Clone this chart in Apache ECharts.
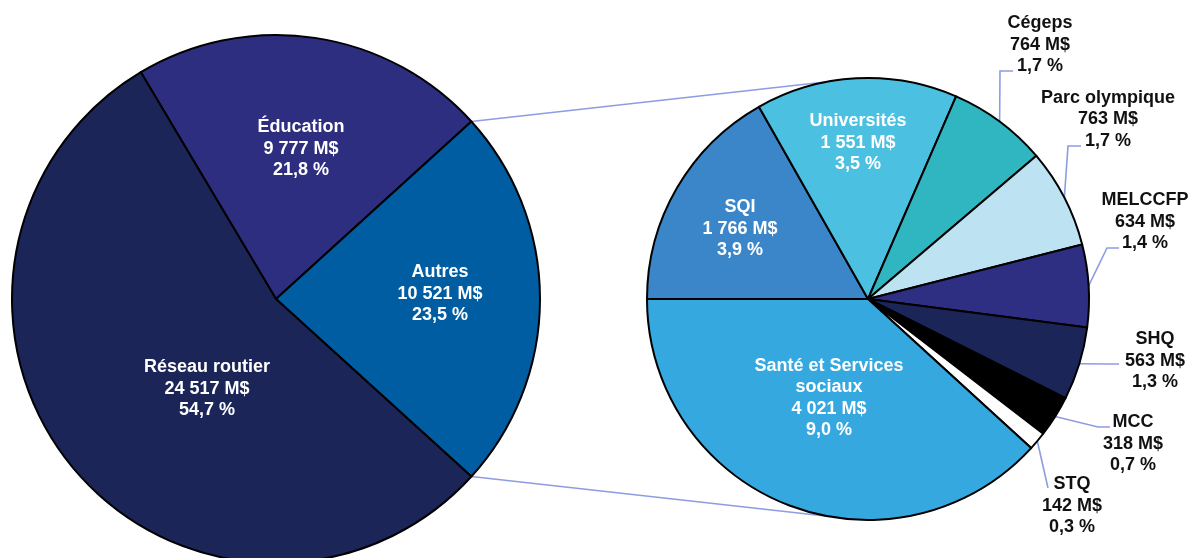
<!DOCTYPE html>
<html>
<head>
<meta charset="utf-8">
<script src="https://cdn.jsdelivr.net/npm/echarts@6/dist/echarts.min.js"></script>
<style>
  html, body { margin: 0; padding: 0; background: #fff; }
  #chart { width: 1192px; height: 558px; }
</style>
</head>
<body>
<div id="chart"></div>
<script>
// pie principal (M$)
var mainNames = ['Éducation', 'Autres', 'Réseau routier'];
var mainValues = [9777, 10521, 24517];
var mainColors = ['#2e2e80', '#005da2', '#1b2558'];

// détail de « Autres » (M$)
var otherNames = ['SQI', 'Universités', 'Cégeps', 'Parc olympique', 'MELCCFP', 'SHQ', 'MCC', 'STQ', 'Santé et Services sociaux'];
var otherValues = [1766, 1551, 764, 763, 634, 563, 318, 142, 4021];
var otherColors = ['#3a86c8', '#4bc0e0', '#30b6c0', '#bde2f1', '#2e2e82', '#1b2558', '#000000', '#ffffff', '#36a8e0'];

var total = mainValues.reduce(function (a, b) { return a + b; }, 0);

// géométrie
var leftC = [276, 299], leftR = 264;
var rightC = [868, 299], rightR = 221;
var eduDeg = mainValues[0] / total * 360;
var autDeg = mainValues[1] / total * 360;
var leftStart = autDeg / 2 + eduDeg; // Autres centré sur l'horizontale
var rightStart = 180;
var joinDeg = 100.6; // où les traits de liaison touchent le 2e pie

// étiquettes
var leftLabelAt = [[301, 149], [440, 294], [207, 389]];
var rightInsideAt = { 0: [740, 229], 1: [858, 143], 8: [829, 398] };
var rightOutside = {
  2: { at: [1040, 45], attach: [1013, 71], elbow: 13 },
  3: { at: [1108, 119.5], attach: [1081, 146], elbow: 13 },
  4: { at: [1145, 222], attach: [1119, 248], elbow: 12 },
  5: { at: [1155, 361], attach: [1119, 364], elbow: 12 },
  6: { at: [1133, 444], attach: [1110, 427], elbow: 12 },
  7: { at: [1072, 506], attach: [1048, 488], elbow: 0 }
};

function ptOn(c, r, deg) {
  var a = deg * Math.PI / 180;
  return [c[0] + r * Math.cos(a), c[1] - r * Math.sin(a)];
}

// angle milieu de chaque tranche du 2e pie
var otherTotal = otherValues.reduce(function (a, b) { return a + b; }, 0);
var rightMid = [];
var acc = rightStart;
otherValues.forEach(function (v) {
  var d = v / otherTotal * 360;
  rightMid.push(acc - d / 2);
  acc -= d;
});

function fmtNum(v) {
  return String(v).replace(/\B(?=(\d{3})+(?!\d))/g, ' ');
}
function fmtPct(v) {
  return (v / total * 100).toFixed(1).replace('.', ',') + ' %';
}
function labelText(p) {
  return p.name.replace('Services ', 'Services\n') + '\n' + fmtNum(p.value) + ' M$\n' + fmtPct(p.value);
}

var labelBase = {
  fontFamily: 'Liberation Sans, Arial, sans-serif',
  fontWeight: 'bold',
  fontSize: 18,
  lineHeight: 21.5,
  formatter: labelText
};

var chart = echarts.init(document.getElementById('chart'), null, { renderer: 'canvas' });

var a1 = leftStart - eduDeg;
var a2 = a1 - autDeg;
var s1 = ptOn(leftC, leftR, a1), e1 = ptOn(rightC, rightR, joinDeg);
var s2 = ptOn(leftC, leftR, a2), e2 = ptOn(rightC, rightR, -joinDeg);

var option = {
  animation: false,
  graphic: [
    { type: 'line', z: 0, shape: { x1: s1[0], y1: s1[1], x2: e1[0], y2: e1[1] }, style: { stroke: '#8e9ce2', lineWidth: 1.6 } },
    { type: 'line', z: 0, shape: { x1: s2[0], y1: s2[1], x2: e2[0], y2: e2[1] }, style: { stroke: '#8e9ce2', lineWidth: 1.6 } }
  ],
  series: [
    {
      type: 'pie',
      center: leftC,
      radius: [0, leftR],
      startAngle: leftStart,
      clockwise: true,
      avoidLabelOverlap: false,
      emphasis: { disabled: true },
      itemStyle: { borderColor: '#000', borderWidth: 2 },
      label: Object.assign({ position: 'inside', color: '#fff' }, labelBase),
      labelLine: { show: false },
      labelLayout: function (p) {
        var at = leftLabelAt[p.dataIndex];
        return { x: at[0], y: at[1], align: 'center', verticalAlign: 'middle' };
      },
      data: mainNames.map(function (n, i) {
        return { name: n, value: mainValues[i], itemStyle: { color: mainColors[i] } };
      })
    },
    {
      type: 'pie',
      center: rightC,
      radius: [0, rightR],
      startAngle: rightStart,
      clockwise: true,
      avoidLabelOverlap: false,
      minShowLabelAngle: 0,
      emphasis: { disabled: true },
      itemStyle: { borderColor: '#000', borderWidth: 2 },
      label: Object.assign({ position: 'inside', color: '#fff' }, labelBase),
      labelLine: { show: false, lineStyle: { color: '#8e9ce2', width: 1.6 } },
      labelLayout: function (p) {
        var i = p.dataIndex;
        if (rightInsideAt[i]) {
          return { x: rightInsideAt[i][0], y: rightInsideAt[i][1], align: 'center', verticalAlign: 'middle' };
        }
        var o = rightOutside[i];
        var p0 = ptOn(rightC, rightR, rightMid[i]);
        var p1 = [o.attach[0] - o.elbow, o.attach[1]];
        return {
          x: o.at[0], y: o.at[1], align: 'center', verticalAlign: 'middle',
          labelLinePoints: [p0, p1, o.attach]
        };
      },
      data: otherNames.map(function (n, i) {
        var d = { name: n, value: otherValues[i], itemStyle: { color: otherColors[i] } };
        if (rightOutside[i]) {
          d.label = { position: 'outside', color: '#111' };
          d.labelLine = { show: true, length: 10, length2: 10 };
        }
        return d;
      })
    }
  ]
};

chart.setOption(option);
</script>
</body>
</html>
